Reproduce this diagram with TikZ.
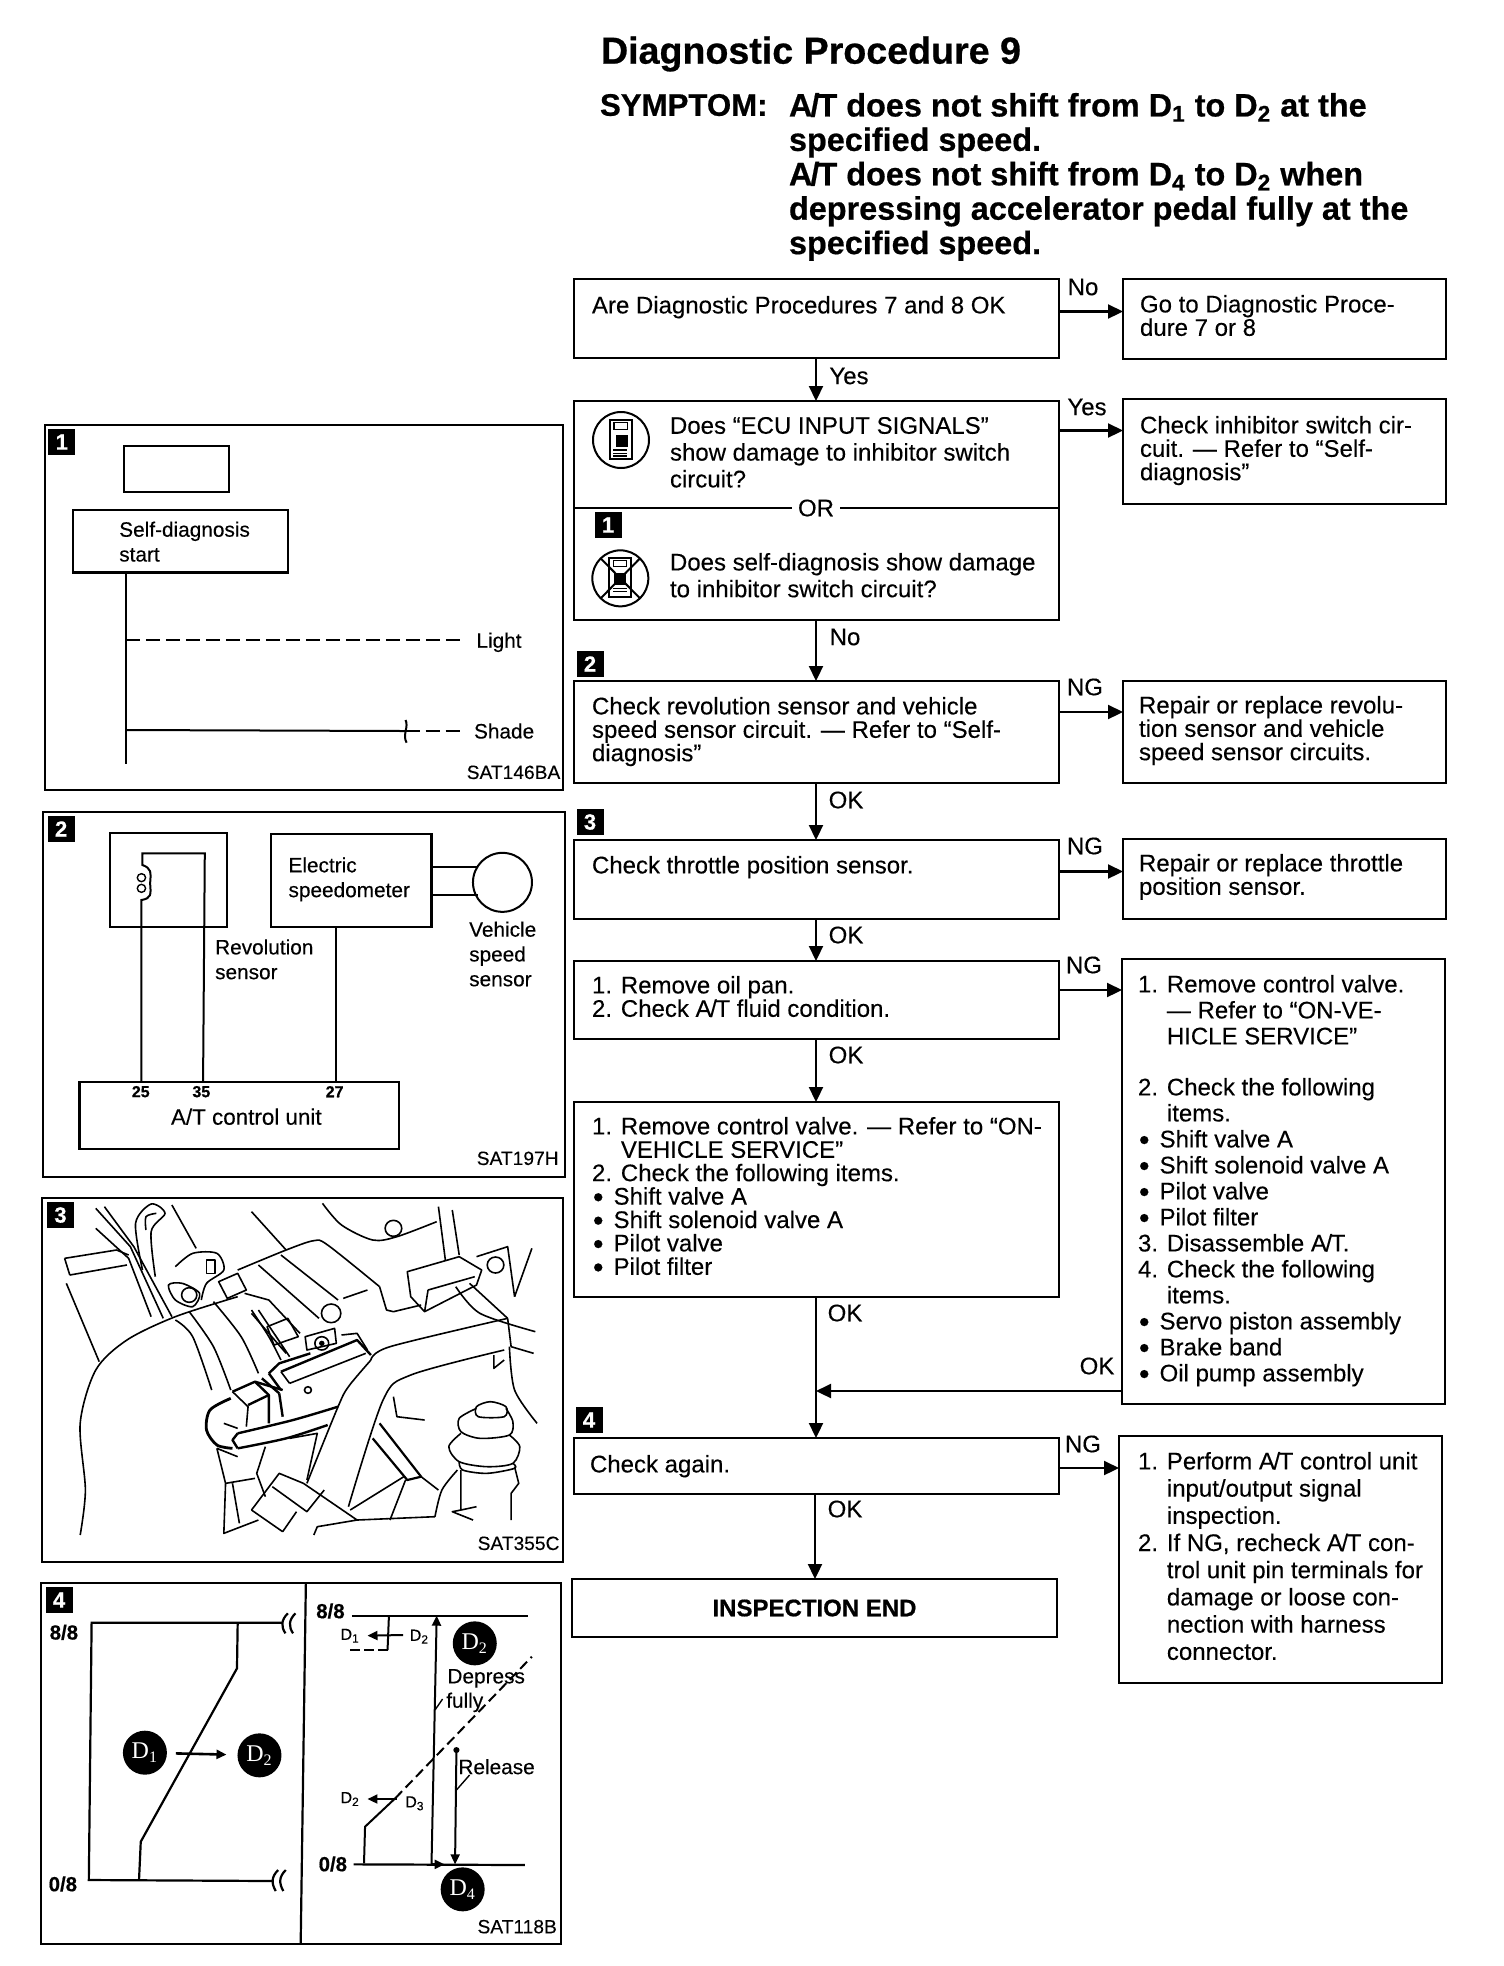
\documentclass[tikz,border=0pt]{standalone}
\usepackage{fontspec}
\setmainfont{Liberation Sans}[UprightFeatures={FakeBold=0.25},BoldFeatures={FakeBold=0.6}]
\newfontfamily\gearfont{Liberation Serif}
\usetikzlibrary{
    positioning,
    arrows.meta
}
\newcommand{\bul}{\makebox[10.8pt][l]{\hspace{0.5pt}\raisebox{-1.3pt}{\fontsize{15}{15}\selectfont\textbullet}}}
\newcommand{\hang}{\hphantom{1. }}
\newcommand{\AT}{A\kern-.06em/\kern-.06em T}

\begin{document}
\begin{tikzpicture}[
    x=0.5pt, y=-0.5pt,
    line width=1pt,
    zoomunit/.style={x=0.17307pt, y=-0.16667pt},
    flowbox/.style={
        rectangle, draw=black, line width=1.1pt, minimum width=242.5pt,
        inner sep=0pt, outer sep=0pt
    },
    sidebox/.style={
        rectangle, draw=black, line width=1.1pt, minimum width=161.5pt,
        inner sep=0pt, outer sep=0pt, anchor=north west
    },
    flowtext/.style={
        font=\fontsize{12}{11.7}\selectfont, align=left,
        anchor=north west, inner sep=0pt
    },
    loosetext/.style={
        font=\fontsize{12}{13.4}\selectfont, align=left,
        anchor=north west, inner sep=0pt
    },
    branch/.style={font=\fontsize{12}{13}\selectfont, inner sep=0pt},
    panel/.style={
        rectangle, draw=black, line width=1.1pt, inner sep=0pt, outer sep=0pt,
        anchor=north west
    },
    paneltext/.style={
        font=\fontsize{10.4}{12.4}\selectfont, align=left, anchor=west, inner sep=0pt
    },
    pantag/.style={
        font=\fontsize{9.6}{11}\selectfont, anchor=east, inner sep=0pt
    },
    badge/.style={
        rectangle, fill=black, text=white, minimum width=13.5pt, minimum height=13pt,
        inner sep=0pt, font=\fontsize{11}{11}\selectfont\bfseries
    },
    gear/.style={
        circle, fill=black, text=white, minimum size=22pt, inner sep=0pt,
        font=\fontsize{12}{12}\gearfont
    },
    axis/.style={font=\fontsize{10.2}{10}\selectfont\bfseries, inner sep=0pt},
    pin/.style={font=\fontsize{8}{10}\selectfont\bfseries, inner sep=0pt},
    small gear/.style={font=\fontsize{8}{8}\selectfont, inner sep=0pt},
    arr/.style={-{Triangle[length=7.5pt,width=7pt]}, line width=1.1pt},
    thinarr/.style={-{Triangle[length=5pt,width=4.5pt]}, line width=1pt}
]
\useasboundingbox (0,0) rectangle (1504,1966);

% Title
\node[anchor=west, inner sep=0pt, font=\fontsize{18.8}{20}\selectfont\bfseries] (title)
    at (600,54) {Diagnostic Procedure 9};
\node[anchor=north west, inner sep=0pt, font=\fontsize{15.6}{17.2}\selectfont\bfseries] (symptom)
    at (599,93) {SYMPTOM:};
\node[anchor=north west, inner sep=0pt, align=left, font=\fontsize{16.2}{17.2}\selectfont\bfseries] (symptom_text)
    at (788,92) {\AT{} does not shift from D\textsubscript{1} to D\textsubscript{2} at the\\
    specified speed.\\
    \AT{} does not shift from D\textsubscript{4} to D\textsubscript{2} when\\
    depressing accelerator pedal fully at the\\
    specified speed.};

% Main column
\node[flowbox, minimum height=39.5pt, anchor=north west] (q1) at (574,279) {};
\node[flowbox, minimum height=109.5pt, below=21.5pt of q1] (q2) {};
\node[flowbox, minimum height=51pt, below=30.5pt of q2] (q3) {};
\node[flowbox, minimum height=39.5pt, below=28.5pt of q3] (q4) {};
\node[flowbox, minimum height=39pt, below=21pt of q4] (q5) {};
\node[flowbox, minimum height=97.5pt, below=31.5pt of q5] (q6) {};
\node[flowbox, minimum height=28pt, below=70.5pt of q6] (q7) {};
\node[flowbox, minimum height=29pt, below=42.5pt of q7, xshift=-1pt,
      font=\fontsize{12}{13}\selectfont\bfseries] (q_end) {INSPECTION END};

\node[flowtext] (q1_text) at ([shift={(17,16)}]q1.north west)
    {Are Diagnostic Procedures 7 and 8 OK};
\node[loosetext] (q2_text) at ([shift={(95,15)}]q2.north west)
    {Does “ECU INPUT SIGNALS”\\show damage to inhibitor switch\\circuit?};
\node[loosetext] (q2_text2) at ([shift={(95,151)}]q2.north west)
    {Does self-diagnosis show damage\\to inhibitor switch circuit?};
\node[flowtext] (q3_text) at ([shift={(17,15)}]q3.north west)
    {Check revolution sensor and vehicle\\speed sensor circuit. — Refer to “Self-\\diagnosis”};
\node[flowtext] (q4_text) at ([shift={(17,15)}]q4.north west)
    {Check throttle position sensor.};
\node[flowtext] (q5_text) at ([shift={(17,14)}]q5.north west)
    {1. Remove oil pan.\\2. Check \AT{} fluid condition.};
\node[flowtext] (q6_text) at ([shift={(17,14)}]q6.north west)
    {1. Remove control valve. — Refer to “ON-\\\hang VEHICLE SERVICE”\\2. Check the following items.\\
    \bul Shift valve A\\\bul Shift solenoid valve A\\\bul Pilot valve\\\bul Pilot filter};
\node[flowtext] (q7_text) at ([shift={(15,16)}]q7.north west) {Check again.};

% Divider and gauges of the double question
\coordinate (or_l) at (574,508);
\coordinate (or_r) at (1059,508);
\draw[line width=1.1pt] (or_l) -- (or_r);
\node[fill=white, inner sep=3pt, font=\fontsize{12}{13}\selectfont] (or_text) at (816,508) {OR};
\node[badge] (badge_q1) at (608,525) {1};
\node[badge] (badge_q3) at (590,664) {2};
\node[badge] (badge_q4) at (590,822) {3};
\node[badge] (badge_q7) at (589,1420) {4};

\begin{scope}[shift={(560,390)}, x=0.16667pt, y=-0.16667pt]
    % Consult unit, normal
    \node[circle, draw, line width=1pt, minimum size=28pt, inner sep=0pt] (icon_a) at (183,150) {};
    \draw[line width=1pt] (150,90) rectangle (215,207);
    \draw[line width=0.7pt] (162,98) rectangle (203,118);
    \fill (168,135) rectangle (205,170);
    \draw[line width=0.7pt] (160,180) -- (200,180) (160,190) -- (200,190) (160,198) -- (200,198);
    % Consult unit, crossed out
    \node[circle, draw, line width=1pt, minimum size=28pt, inner sep=0pt] (icon_b) at (181,565) {};
    \draw[line width=1pt] (148,505) rectangle (213,620);
    \draw[line width=0.7pt] (160,512) rectangle (200,530);
    \fill (163,548) rectangle (198,585);
    \draw[line width=0.7pt] (160,595) -- (200,595) (160,605) -- (200,605);
    \draw[line width=1pt] (122,505) -- (240,625) (240,505) -- (122,625);
\end{scope}

% Side column
\node[sidebox, minimum height=40pt] (r1) at ([xshift=32pt]q1.north east) {};
\node[sidebox, minimum height=52.5pt] (r2) at ([xshift=32pt,yshift=1pt]q2.north east) {};
\node[sidebox, minimum height=51pt] (r3) at ([xshift=32pt]q3.north east) {};
\node[sidebox, minimum height=40pt] (r4) at ([xshift=32pt,yshift=0.5pt]q4.north east) {};
\node[sidebox, minimum height=222.5pt] (r5) at ([xshift=31.5pt,yshift=1pt]q5.north east) {};
\node[sidebox, minimum height=123.5pt] (r7) at ([xshift=30pt,yshift=1pt]q7.north east) {};

\node[flowtext] (r1_text) at ([shift={(16,15)}]r1.north west)
    {Go to Diagnostic Proce-\\dure 7 or 8};
\node[flowtext] (r2_text) at ([shift={(16,16)}]r2.north west)
    {Check inhibitor switch cir-\\cuit. — Refer to “Self-\\diagnosis”};
\node[flowtext] (r3_text) at ([shift={(15,14)}]r3.north west)
    {Repair or replace revolu-\\tion sensor and vehicle\\speed sensor circuits.};
\node[flowtext] (r4_text) at ([shift={(15,14)}]r4.north west)
    {Repair or replace throttle\\position sensor.};
\node[flowtext, font=\fontsize{12}{13}\selectfont] (r5_text) at ([shift={(15,15)}]r5.north west)
    {1. Remove control valve.\\\hang — Refer to “ON-VE-\\\hang HICLE SERVICE”\\[12.5pt]
    2. Check the following\\\hang items.\\\bul Shift valve A\\\bul Shift solenoid valve A\\
    \bul Pilot valve\\\bul Pilot filter\\3. Disassemble \AT.\\4. Check the following\\
    \hang items.\\\bul Servo piston assembly\\\bul Brake band\\\bul Oil pump assembly};
\node[loosetext, font=\fontsize{12}{13.6}\selectfont] (r7_text) at ([shift={(18,15)}]r7.north west)
    {1. Perform \AT{} control unit\\\hang input/output signal\\\hang inspection.\\
    2. If NG, recheck \AT{} con-\\\hang trol unit pin terminals for\\\hang damage or loose con-\\
    \hang nection with harness\\\hang connector.};

% Arrows
\draw[arr] (q1.south -| 816,0) -- (q2.north -| 816,0);
\draw[arr] (q2.south -| 816,0) -- (q3.north -| 816,0);
\draw[arr] (q3.south -| 816,0) -- (q4.north -| 816,0);
\draw[arr] (q4.south -| 816,0) -- (q5.north -| 816,0);
\draw[arr] (q5.south -| 816,0) -- (q6.north -| 816,0);
\draw[arr] (q6.south -| 816,0) -- (q7.north -| 816,0);
\draw[arr] (q7.south -| 815,0) -- (q_end.north -| 815,0);
\draw[arr] ([yshift=3.5pt]q1.east) -- ([yshift=3.5pt]q1.east -| r1.west);
\draw[arr] ([yshift=40pt]q2.east) -- ([yshift=40pt]q2.east -| r2.west);
\draw[arr] ([yshift=10pt]q3.east) -- ([yshift=10pt]q3.east -| r3.west);
\draw[arr] ([yshift=4pt]q4.east) -- ([yshift=4pt]q4.east -| r4.west);
\draw[arr] ([yshift=5pt]q5.east) -- ([yshift=5pt]q5.east -| r5.west);
\draw[arr] ([yshift=-1pt]q7.east) -- ([yshift=-1pt]q7.east -| r7.west);
\coordinate (merge) at (816,1391);
\draw[arr] (merge -| r5.west) -- (merge);

% Branch labels
\node[branch] (l_no1) at (1083,287) {No};
\node[branch] (l_yes1) at (849,376) {Yes};
\node[branch] (l_yes2) at (1087,407) {Yes};
\node[branch] (l_no2) at (845,637) {No};
\node[branch] (l_ng3) at (1085,687) {NG};
\node[branch] (l_ok3) at (846,800) {OK};
\node[branch] (l_ng4) at (1085,846) {NG};
\node[branch] (l_ok4) at (846,935) {OK};
\node[branch] (l_ng5) at (1084,965) {NG};
\node[branch] (l_ok5) at (846,1055) {OK};
\node[branch] (l_ok6) at (845,1313) {OK};
\node[branch] (l_ok7) at (1097,1366) {OK};
\node[branch] (l_ng7) at (1083,1444) {NG};
\node[branch] (l_ok8) at (845,1509) {OK};

% Panel 1: dash lamp
\node[panel, minimum width=259pt, minimum height=182.5pt] (p1) at (45,425) {};
\begin{scope}[shift={(30,410)}, zoomunit]
    \node[badge] (p1_badge) at (92,96) {1};
    \node[panel, minimum width=52.4pt, minimum height=22.8pt] (p1_lamp) at (272,108) {};
    \node[panel, minimum width=107.3pt, minimum height=31.2pt] (p1_start) at (125,300) {};
    \node[paneltext] (p1_start_text) at (255,395) {Self-diagnosis\\start};
    \coordinate (p1_top) at (277,487);
    \coordinate (p1_bot) at (277,1062);
    \coordinate (p1_light) at (277,690);
    \coordinate (p1_shade) at (277,960);
    \coordinate (p1_step) at (1085,963);
    \draw[line width=1.1pt] (p1_top) -- (p1_bot);
    \node[paneltext] (p1_light_text) at (1287,697) {Light};
    \node[paneltext] (p1_shade_text) at (1280,963) {Shade};
    \draw[dash pattern=on 7pt off 3pt] (p1_light) -- (1255,690);
    \draw (p1_shade) -- (p1_step);
    \draw (1085,930) .. controls (1095,950) and (1075,975) .. (1088,998);
    \draw[dash pattern=on 7pt off 3pt] (p1_step) -- (1245,963);
    \node[pantag] (p1_tag) at (1535,1087) {SAT146BA};
\end{scope}

% Panel 2: wiring
\node[panel, minimum width=261pt, minimum height=182.5pt] (p2) at (43,812) {};
\begin{scope}[shift={(30,800)}, zoomunit]
    \node[badge] (p2_badge) at (90,87) {2};
    \node[panel, minimum width=58.8pt, minimum height=47pt] (p2_rev) at (230,98) {};
    \node[panel, minimum width=80.1pt, minimum height=46.5pt] (p2_speedo) at (697,103) {};
    \node[paneltext] (p2_speedo_text) at (744,238) {Electric\\speedometer};
    \node[circle, draw, line width=1pt, minimum size=29.5pt, inner sep=0pt] (p2_sensor) at (1365,247) {};
    \node[panel, minimum width=159.9pt, minimum height=33.8pt] (p2_unit) at (143,845) {};
    \node[paneltext] (p2_rev_text) at (532,478) {Revolution\\sensor};
    \node[paneltext] (p2_veh_text) at (1266,462) {Vehicle\\speed\\sensor};
    \node[inner sep=0pt, font=\fontsize{11.2}{12}\selectfont] (p2_unit_text) at (625,950) {A/T control unit};
    \node[pin] (p2_pin25) at (320,875) {25};
    \node[pin] (p2_pin35) at (495,875) {35};
    \node[pin] (p2_pin27) at (880,875) {27};
    \draw (322,845) -- (322,300) .. controls (350,295) and (350,285) .. (347,250)
        .. controls (350,215) and (350,205) .. (325,195) -- (325,160) -- (505,160) -- (500,845);
    \draw[line width=0.7pt] (322,233) circle[radius=12] (322,265) circle[radius=12];
    \draw (885,382) -- (885,845);
    \draw (1160,200) -- (1293,200);
    \draw (1160,285) -- (1293,285);
    \node[pantag] (p2_tag) at (1530,1075) {SAT197H};
\end{scope}

% Panel 3: throttle sensor location
\node[panel, minimum width=260.5pt, minimum height=182pt] (p3) at (42,1198) {};
\begin{scope}[shift={(30,1190)}, zoomunit, line width=0.8pt, line join=round]
    \node[badge] (p3_badge) at (88,75) {3};
    % intake hose
    \draw plot[smooth] coordinates {(145,1035) (160,900) (145,700) (190,540) (280,450) (420,380) (600,320)};
    \draw plot[smooth] coordinates {(420,390) (470,440) (525,600)};
    \draw plot[smooth] coordinates {(460,365) (530,470) (580,600)};
    \draw plot[smooth] coordinates {(530,335) (610,440) (660,550)};
    \draw plot[smooth] coordinates {(640,360) (690,440) (725,510)};
    % pipes upper left
    \draw (190,55) -- (290,170) -- (385,385);
    \draw (215,50) -- (300,170) -- (410,380);
    \draw (190,115) -- (285,205) -- (350,380);
    \draw (105,280) -- (200,515);
    \draw (100,205) -- (250,180) -- (285,195) (115,255) -- (280,225) (100,205) -- (115,255);
    \draw plot[smooth] coordinates {(325,240) (305,100) (350,42) (390,70) (350,125) (362,260)};
    \draw plot[smooth] coordinates {(335,120) (335,80) (365,70)};
    \draw (410,45) -- (480,175);
    \draw (640,65) -- (740,180);
    % clamp
    \draw plot[smooth cycle] coordinates {(400,285) (440,280) (490,310) (470,350) (420,330)};
    \draw (460,315) circle[radius=22];
    \draw plot[smooth] coordinates {(420,230) (470,190) (540,190) (560,240) (510,280) (495,330)};
    \draw (510,210) rectangle (535,250);
    \draw (545,275) -- (600,250) -- (625,300) -- (570,325) -- cycle;
    % throttle body
    \draw plot[smooth] coordinates {(600,240) (740,180) (820,152) (860,165) (1010,290)};
    \draw (1010,290) -- (1030,360) -- (1050,365) -- (1130,345);
    \draw (905,325) -- (975,300);
    \draw (660,225) -- (835,385) (725,195) -- (890,330);
    \draw (870,370) circle[radius=28];
    \draw (620,310) -- (690,330) -- (780,430) (640,370) -- (740,490) (660,360) -- (750,500);
    \draw (685,410) -- (745,385) -- (775,440) -- (705,465) -- cycle;
    % upper right
    \draw plot[smooth] coordinates {(845,40) (900,105) (990,150) (1060,140) (1175,95)};
    \draw (1050,115) circle[radius=24];
    \draw (1180,50) -- (1200,210) (1220,60) -- (1240,195);
    \draw (1090,245) -- (1240,200) -- (1305,240) -- (1290,285) -- (1140,365) -- (1100,320) -- cycle;
    \draw (1150,300) -- (1285,260) (1150,300) -- (1140,365);
    \draw plot[smooth] coordinates {(1230,290) (1300,370) (1460,425)};
    \draw (1270,280) -- (1380,385);
    \draw (1290,200) -- (1380,170) -- (1400,320) (1345,225) circle[radius=24];
    \draw (1450,175) -- (1400,320);
    % bars
    \draw plot[smooth] coordinates {(985,510) (1040,470) (1380,385)};
    \draw (1380,385) -- (1390,470) -- (1455,490);
    \draw plot[smooth] coordinates {(1385,470) (1400,600) (1465,700)};
    \draw plot[smooth] coordinates {(1370,480) (1100,555) (1020,630) (920,950)};
    \draw plot[smooth] coordinates {(985,510) (920,590) (890,650) (800,880)};
    \draw (1340,495) -- (1340,535) -- (1370,510);
    % sensor
    \draw[line width=1.2pt] (690,550) -- (720,520) -- (810,490);
    \draw[line width=1.2pt] (725,545) -- (945,450) -- (985,495);
    \draw (900,435) -- (945,430) -- (975,480);
    \draw (750,580) -- (970,490);
    \draw (750,580) -- (725,545);
    \draw (803,600) circle[radius=10];
    \draw (795,440) -- (880,415) -- (885,460) -- (800,480) -- cycle;
    \draw (843,460) circle[radius=20];
    \fill (843,460) circle[radius=8];
    % connector and boot
    \draw[line width=1.2pt] (585,605) -- (650,575) -- (730,600);
    \draw[line width=1.2pt] (630,645) -- (690,615) -- (690,700) (720,610) -- (730,680);
    \draw (585,605) -- (630,650) -- (625,710);
    \draw[line width=1.2pt] (650,575) -- (690,615) (670,565) -- (720,610) (690,550) -- (725,600);
    \draw[line width=1.4pt] plot[smooth] coordinates {(580,625) (520,660) (510,720) (540,765) (585,775)};
    \draw[line width=1.2pt] plot[smooth] coordinates {(600,730) (760,690) (890,650)};
    \draw[line width=1.2pt] plot[smooth] coordinates {(600,775) (740,745) (860,705)};
    \draw[line width=1.2pt] (600,730) -- (585,750) -- (600,775);
    \draw (560,700) -- (600,715);
    % lower left
    \draw (540,775) -- (565,880) -- (560,1030) -- (660,990);
    \draw (565,880) -- (650,865) (585,880) -- (605,1000);
    \draw (540,775) -- (600,800);
    \draw (640,960) -- (720,850) -- (790,880) -- (945,990) -- (830,1010) -- (820,1035);
    \draw (700,890) -- (800,965) -- (850,900);
    \draw (640,960) -- (730,1025) (770,965) -- (730,1025);
    \draw (680,770) -- (655,850) -- (680,920);
    \draw (750,745) -- (830,730) -- (800,870);
    % lower right
    \draw[line width=1.1pt] (990,745) -- (1090,870) -- (1130,860) -- (1010,700);
    \draw (925,960) -- (1080,860) (1085,870) -- (1040,990);
    \draw (945,990) -- (1170,980);
    \draw plot[smooth] coordinates {(1170,980) (1190,900) (1235,840)};
    \draw (1180,900) -- (1130,860);
    \draw (1050,620) -- (1060,680) -- (1140,690);
    % rubber stop
    \draw plot[smooth cycle] coordinates {(1290,650) (1330,635) (1375,650) (1370,680) (1295,680)};
    \draw plot[smooth] coordinates {(1290,655) (1240,685) (1245,725) (1300,745) (1385,735) (1395,695) (1375,655)};
    \draw plot[smooth] coordinates {(1245,730) (1210,770) (1240,815) (1320,830) (1395,820) (1415,770) (1385,735)};
    \draw plot[smooth] coordinates {(1240,815) (1250,840) (1320,850) (1400,835) (1395,820)};
    \draw (1245,840) -- (1245,960) -- (1220,965) -- (1280,990) (1245,960) -- (1290,950);
    \draw (1400,830) -- (1412,880) -- (1390,910) -- (1390,990);
    \node[pantag] (p3_tag) at (1532,1060) {SAT355C};
\end{scope}

% Panel 4: shift schedules
\node[panel, minimum width=260pt, minimum height=180.5pt] (p4) at (41,1583) {};
\begin{scope}[shift={(30,1575)}, zoomunit]
    \draw[line width=1.1pt] (797,25) -- (782,1108);
    \node[badge] (p4_badge) at (84,75) {4};
    % left schedule
    \draw[line width=1.1pt] (730,143) -- (178,143) -- (170,915) -- (700,918);
    \draw[line width=1.1pt] (600,145) -- (598,280) -- (320,800) -- (315,915);
    \draw[line width=1.1pt] (745,115) .. controls (725,135) and (725,155) .. (738,175)
        (767,115) .. controls (747,135) and (747,155) .. (760,175);
    \draw[line width=1.1pt] (717,885) .. controls (697,905) and (697,925) .. (710,948)
        (739,885) .. controls (719,905) and (719,925) .. (732,948);
    \node[axis] (p4_top_l) at (98,172) {8/8};
    \node[axis] (p4_bot_l) at (95,927) {0/8};
    \node[gear] (g_d1) at (332,533) {D\textsubscript{1}};
    \node[gear] (g_d2) at (663,541) {D\textsubscript{2}};
    \draw[thinarr, line width=1.3pt, shorten <=4pt, shorten >=5pt] (g_d1) -- (g_d2);
    % right schedule
    \node[axis] (p4_top_r) at (868,108) {8/8};
    \node[axis] (p4_bot_r) at (875,867) {0/8};
    \coordinate (kick_top) at (1175,122);
    \coordinate (kick_bot) at (1160,868);
    \coordinate (rel_top) at (1232,525);
    \coordinate (rel_bot) at (1228,868);
    \draw[line width=1.1pt] (930,122) -- (1440,122);
    \draw[line width=1.1pt] (935,868) -- (1430,870);
    \draw (1037,122) -- (1033,225);
    \draw[dash pattern=on 5pt off 2pt] (1033,225) -- (920,225);
    \draw (965,865) -- (968,755) -- (1055,670);
    \draw[dash pattern=on 5pt off 2.5pt] (1055,670) -- (1450,245);
    \draw[thinarr] (kick_bot) -- (kick_top);
    \draw[thinarr] (kick_bot) -- (1198,868);
    \fill (rel_top) circle[radius=9];
    \draw[thinarr] (rel_top) -- (rel_bot);
    \node[small gear] (p4_d1a) at (925,182) {D\textsubscript{1}};
    \node[small gear] (p4_d2a) at (1125,185) {D\textsubscript{2}};
    \draw[thinarr] (1078,180) -- (p4_d1a.east -| 975,0);
    \node[small gear] (p4_d2b) at (925,672) {D\textsubscript{2}};
    \node[small gear] (p4_d3b) at (1112,685) {D\textsubscript{3}};
    \draw[thinarr] (1060,672) -- (p4_d2b.east -| 975,0);
    \node[gear] (g_d2b) at (1285,205) {D\textsubscript{2}};
    \node[gear] (g_d4) at (1250,943) {D\textsubscript{4}};
    \node[paneltext, anchor=center] (p4_dep) at (1318,310) {Depress};
    \node[paneltext, anchor=center] (p4_ful) at (1256,382) {fully};
    \node[paneltext, anchor=center] (p4_rel) at (1348,575) {Release};
    \draw[line width=0.7pt] (1192,372) -- (1170,405);
    \draw[line width=0.7pt] (1270,600) -- (1232,645);
    \node[pantag] (p4_tag) at (1525,1055) {SAT118B};
\end{scope}

\end{tikzpicture}
\end{document}
